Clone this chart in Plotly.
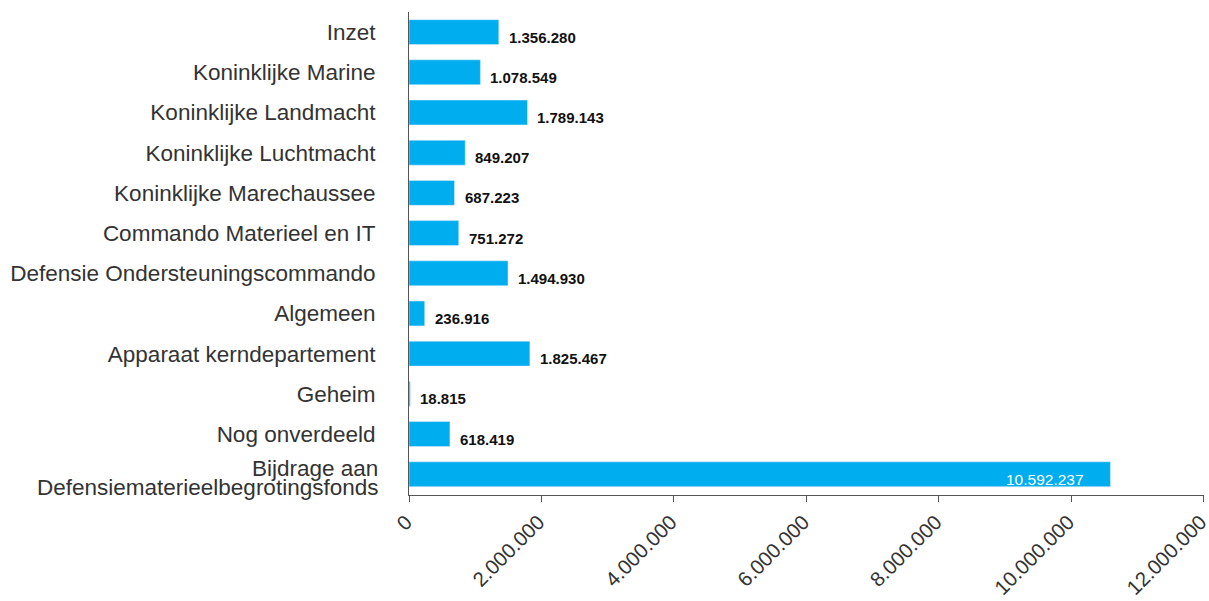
import plotly.graph_objects as go

categories = [
    "Inzet",
    "Koninklijke Marine",
    "Koninklijke Landmacht",
    "Koninklijke Luchtmacht",
    "Koninklijke Marechaussee",
    "Commando Materieel en IT",
    "Defensie Ondersteuningscommando",
    "Algemeen",
    "Apparaat kerndepartement",
    "Geheim",
    "Nog onverdeeld",
    "Bijdrage aan Defensiematerieelbegrotingsfonds",
]
label_lines = {
    "Bijdrage aan Defensiematerieelbegrotingsfonds": ["Bijdrage aan", "Defensiematerieelbegrotingsfonds"],
}
values = [1356280, 1078549, 1789143, 849207, 687223, 751272, 1494930,
          236916, 1825467, 18815, 618419, 10592237]
tick_values = [0, 2000000, 4000000, 6000000, 8000000, 10000000, 12000000]


def fmt(v):
    return f"{v:,}".replace(",", ".")


inside_threshold = 5000000
LABEL_FONT = dict(family="Liberation Sans", size=22.5, color="#333333")

fig = go.Figure(
    go.Bar(
        x=values,
        y=categories,
        orientation="h",
        marker=dict(color="#00AEEF"),
        width=0.62,
        hoverinfo="x+y",
    )
)

for cat, v in zip(categories, values):
    if v > inside_threshold:
        fig.add_annotation(
            x=v, y=cat, text=fmt(v), showarrow=False,
            xanchor="right", yanchor="middle", xshift=-24, yshift=-5,
            font=dict(family="Liberation Sans", size=15.5, color="#ffffff"),
        )
    else:
        fig.add_annotation(
            x=v, y=cat, text=f"<b>{fmt(v)}</b>", showarrow=False,
            xanchor="left", yanchor="middle", xshift=8, yshift=-5,
            font=dict(family="Liberation Sans", size=15, color="#111111"),
        )

# multi-line category labels with tight line spacing
ticktext = []
for cat in categories:
    if cat in label_lines:
        ticktext.append("")
        lines = label_lines[cat]
        n = len(lines)
        for i, line in enumerate(lines):
            fig.add_annotation(
                x=0, xref="paper", y=cat, yref="y", text=line, showarrow=False,
                xanchor="right", yanchor="middle", xshift=-29,
                yshift=(-(i - (n - 1) / 2) * 19.5) - 3.5,
                font=LABEL_FONT,
            )
    else:
        ticktext.append(cat)

fig.update_layout(
    width=1209,
    height=601,
    margin=dict(l=409, r=5, t=12, b=106),
    plot_bgcolor="white",
    paper_bgcolor="white",
    separators=",.",
    showlegend=False,
    font=dict(family="Liberation Sans", color="#333333"),
)
fig.update_xaxes(
    range=[0, tick_values[-1] * 1.0004],
    tickvals=tick_values,
    tickformat=",d",
    tickangle=-45,
    tickfont=dict(family="Liberation Sans", size=20.5, color="#333333"),
    ticklabeloverflow="allow",
    ticklabelshift=-3,
    showgrid=False,
    zeroline=False,
    showline=True,
    linecolor="#555555",
    linewidth=1,
    ticks="outside",
    ticklen=6,
    tickcolor="#555555",
    automargin=False,
)
fig.update_yaxes(
    autorange="reversed",
    tickmode="array",
    tickvals=categories,
    ticktext=ticktext,
    tickfont=LABEL_FONT,
    showgrid=False,
    showline=True,
    linecolor="#555555",
    linewidth=1,
    ticks="",
    ticklabelstandoff=28,
    automargin=False,
)

fig.write_html(
    "out.html",
    config={"displayModeBar": False},
    post_script="document.body.style.margin='0';document.body.style.overflow='hidden';",
)
